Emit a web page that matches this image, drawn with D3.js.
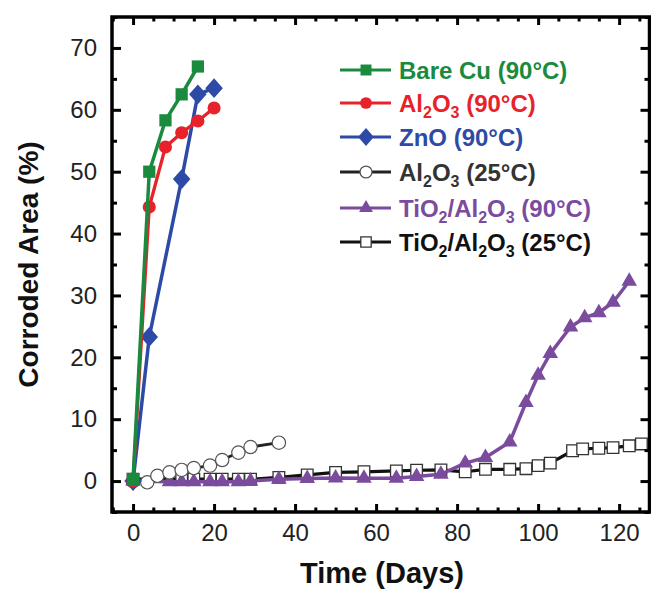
<!DOCTYPE html>
<html><head><meta charset="utf-8">
<script src="https://cdn.jsdelivr.net/npm/d3@7"></script>
<style>body{margin:0;background:#fff}svg{display:block}text{font-family:"Liberation Sans",Arial,sans-serif}</style>
</head><body><svg id="c" width="651" height="591"></svg>
<script>
// ---- data ----
const bareCuDays = [0, 4, 8, 12, 16];
const bareCuVals = [0.3, 50, 58.3, 62.5, 67];
const al2o3HotDays = [0, 4, 8, 12, 16, 20];
const al2o3HotVals = [0, 44.3, 54, 56.3, 58.2, 60.3];
const znoDays = [0, 4, 12, 16, 20];
const znoVals = [0, 23.3, 48.8, 62.5, 63.5];
const al2o3RtDays = [0, 3.5, 6, 9, 12, 15, 19, 22, 26, 29, 36];
const al2o3RtVals = [0, -0.2, 0.85, 1.4, 1.8, 2.1, 2.5, 3.4, 4.6, 5.5, 6.2];
const tiHotDays = [0, 9, 12, 15, 19, 22, 26, 29, 36, 43, 50, 57, 65, 70, 76, 82, 87, 93, 97, 100, 103, 108, 111.5, 115, 118.5, 122.5];
const tiHotVals = [0, -0.1, -0.1, -0.1, -0.1, -0.1, -0.1, 0, 0.3, 0.4, 0.5, 0.45, 0.45, 0.75, 1.1, 2.9, 3.8, 6.3, 12.7, 17.1, 20.6, 24.9, 26.4, 27.2, 28.9, 32.3];
const tiRtDays = [0, 12, 15, 19, 22, 26, 29, 36, 43, 50, 57, 65, 70, 76, 82, 87, 93, 97, 100, 103, 108.5, 111, 115, 118.5, 122.5, 125.5];
const tiRtVals = [0.3, 0.3, 0.3, 0.3, 0.3, 0.3, 0.3, 0.6, 1.0, 1.4, 1.5, 1.65, 1.75, 1.8, 1.5, 1.9, 1.9, 2.0, 2.5, 2.9, 4.9, 5.2, 5.3, 5.4, 5.7, 6.0];
const xTickLabels = [0, 20, 40, 60, 80, 100, 120];
const yTickLabels = [0, 10, 20, 30, 40, 50, 60, 70];
const legendLabels = [
  ["Bare Cu (90°C)"],
  ["Al", "2", "O", "3", " (90°C)"],
  ["ZnO (90°C)"],
  ["Al", "2", "O", "3", " (25°C)"],
  ["TiO", "2", "/Al", "2", "O", "3", " (90°C)"],
  ["TiO", "2", "/Al", "2", "O", "3", " (25°C)"]
];

const svg = d3.select("#c");
const L = 112, R = 649.5, T = 17, B = 512;
const x = d3.scaleLinear([-5.2, 127.5], [L, R]);
const y = d3.scaleLinear([-5, 75], [B, T]);

const diamond = {draw(ctx, size){const r = Math.sqrt(size/2); ctx.moveTo(0,-r*1.08); ctx.lineTo(r*0.95,0); ctx.lineTo(0,r*1.08); ctx.lineTo(-r*0.95,0); ctx.closePath();}};

const series = [
  {days: tiRtDays, vals: tiRtVals, line: "#111", stroke: "#333", fill: "#fff", sym: d3.symbolSquare, size: 135, sw: 1.3, lw: 3.2},
  {days: tiHotDays, vals: tiHotVals, line: "#7b4b9e", stroke: "#7b4b9e", fill: "#7b4b9e", sym: d3.symbolTriangle, size: 105, sw: 0, lw: 3.5},
  {days: al2o3RtDays, vals: al2o3RtVals, line: "#222", stroke: "#555", fill: "#fff", sym: d3.symbolCircle, size: 140, sw: 1.2, lw: 2.8},
  {days: znoDays, vals: znoVals, line: "#2d4aa6", stroke: "#2d4aa6", fill: "#2d4aa6", sym: diamond, size: 170, sw: 0, lw: 3.5},
  {days: al2o3HotDays, vals: al2o3HotVals, line: "#e8222a", stroke: "#e8222a", fill: "#e8222a", sym: d3.symbolCircle, size: 135, sw: 0, lw: 3.3},
  {days: bareCuDays, vals: bareCuVals, line: "#1a8a3e", stroke: "#1a8a3e", fill: "#1a8a3e", sym: d3.symbolSquare, size: 150, sw: 0, lw: 3.5}
];

const line = d3.line().x(d => x(d[0])).y(d => y(d[1]));
const plot = svg.append("g");
series.forEach(s => {
  const pts = s.days.map((d, i) => [d, s.vals[i]]);
  plot.append("path").attr("d", line(pts)).attr("fill", "none").attr("stroke", s.line).attr("stroke-width", s.lw).attr("stroke-linejoin", "round");
  plot.selectAll(null).data(pts).join("path")
    .attr("transform", d => `translate(${x(d[0])},${y(d[1])})`)
    .attr("d", d3.symbol(s.sym, s.size))
    .attr("fill", s.fill).attr("stroke", s.stroke).attr("stroke-width", s.sw);
});

// axes
const minorX = d3.range(-5, 128, 5).filter(v => v % 20 !== 0);
const minorY = d3.range(-5, 76, 5).filter(v => v % 10 !== 0);
function style(g){ g.select(".domain").remove(); g.selectAll("line").attr("stroke", "#000").attr("stroke-width", 3); g.selectAll("text").attr("font-size", 24).attr("fill", "#222").attr("font-family", "'Liberation Sans',Arial,sans-serif"); }
svg.append("g").attr("transform", `translate(0,${B})`).call(d3.axisBottom(x).tickValues(xTickLabels).tickSize(-8).tickPadding(12)).call(style);
svg.append("g").attr("transform", `translate(0,${B})`).call(d3.axisBottom(x).tickValues(minorX).tickSize(-4.5).tickFormat("")).call(style);
svg.append("g").attr("transform", `translate(0,${T})`).call(d3.axisTop(x).tickValues(xTickLabels).tickSize(-8).tickFormat("")).call(style);
svg.append("g").attr("transform", `translate(0,${T})`).call(d3.axisTop(x).tickValues(minorX).tickSize(-4.5).tickFormat("")).call(style);
svg.append("g").attr("transform", `translate(${L},0)`).call(d3.axisLeft(y).tickValues(yTickLabels).tickSize(-9).tickPadding(15)).call(style);
svg.append("g").attr("transform", `translate(${L},0)`).call(d3.axisLeft(y).tickValues(minorY).tickSize(-5).tickFormat("")).call(style);
svg.append("g").attr("transform", `translate(${R},0)`).call(d3.axisRight(y).tickValues(yTickLabels).tickSize(-9).tickFormat("")).call(style);
svg.append("g").attr("transform", `translate(${R},0)`).call(d3.axisRight(y).tickValues(minorY).tickSize(-5).tickFormat("")).call(style);

svg.append("rect").attr("x", L).attr("y", T).attr("width", R - L).attr("height", B - T)
  .attr("fill", "none").attr("stroke", "#000").attr("stroke-width", 3.5);

// axis titles
svg.append("text").attr("x", 382).attr("y", 583).attr("text-anchor", "middle")
  .attr("font-size", 29).attr("font-weight", "bold").attr("fill", "#111").text("Time (Days)");
svg.append("text").attr("transform", `translate(38,${(T + B) / 2}) rotate(-90)`).attr("text-anchor", "middle")
  .attr("font-size", 28).attr("font-weight", "bold").attr("fill", "#111").text("Corroded Area (%)");

// legend
const legTextColors = ["#1a8a3e", "#e8222a", "#2d4aa6", "#333", "#7b4b9e", "#111"];
const legRows = [70, 103, 137, 172, 208, 242];
const legSeries = [series[5], series[4], series[3], series[2], series[1], series[0]];
legSeries.forEach((s, i) => {
  const g = svg.append("g").attr("transform", `translate(0,${legRows[i]})`);
  g.append("line").attr("x1", 340).attr("x2", 391).attr("y1", 0).attr("y2", 0).attr("stroke", s.line).attr("stroke-width", 3.2);
  g.append("path").attr("transform", "translate(366,0)").attr("d", d3.symbol(s.sym, s.size * 0.8))
    .attr("fill", s.fill).attr("stroke", s.stroke).attr("stroke-width", s.sw);
  const t = g.append("text").attr("x", 399).attr("y", 8.5).attr("font-size", 24).attr("font-weight", "bold").attr("fill", legTextColors[i]);
  let prevSub = false;
  legendLabels[i].forEach(p => {
    const isSub = /^[0-9]$/.test(p);
    const ts = t.append("tspan").text(p);
    if (isSub) { ts.attr("font-size", 16).attr("dy", 6); }
    else if (prevSub) { ts.attr("dy", -6); }
    prevSub = isSub;
  });
});
</script></body></html>
